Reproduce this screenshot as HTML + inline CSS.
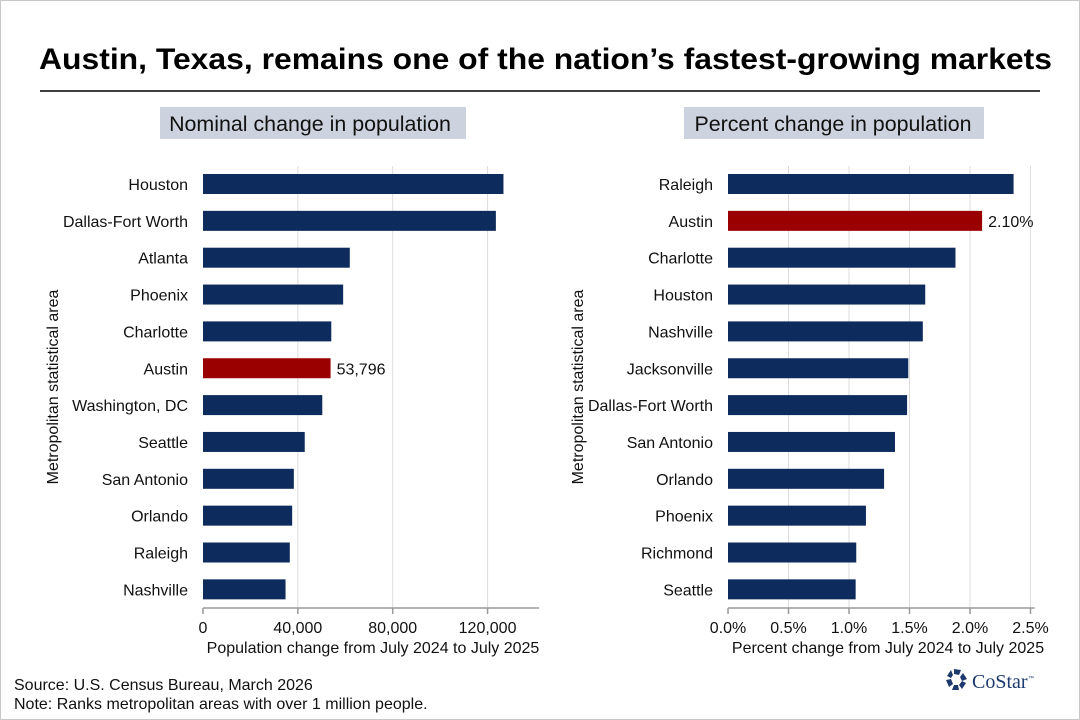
<!DOCTYPE html>
<html><head><meta charset="utf-8"><style>
html,body{margin:0;padding:0;background:#fff}
svg{display:block;font-family:"Liberation Sans",Arial,sans-serif}
</style></head><body>
<svg id="c" width="1080" height="720" viewBox="0 0 1080 720" xmlns="http://www.w3.org/2000/svg">
<rect x="0.5" y="0.5" width="1079" height="719" fill="#fff" stroke="#c8c8c8"/>
<text x="39" y="69" font-size="30" font-weight="bold" fill="#000" textLength="1013" lengthAdjust="spacingAndGlyphs">Austin, Texas, remains one of the nation’s fastest-growing markets</text>
<line x1="40" y1="91" x2="1040" y2="91" stroke="#000" stroke-width="1.5"/>
<rect x="160" y="107" width="306" height="32" fill="#cdd3de"/>
<text x="310" y="131" font-size="21.4" text-anchor="middle" fill="#111">Nominal change in population</text>
<rect x="684" y="107" width="300" height="32" fill="#cdd3de"/>
<text x="833" y="131" font-size="21.4" text-anchor="middle" fill="#111">Percent change in population</text>
<g id="left"></g>
<g id="right"></g>
<text x="14" y="690" font-size="16" fill="#111">Source: U.S. Census Bureau, March 2026</text>
<text x="14" y="709" font-size="16" fill="#111">Note: Ranks metropolitan areas with over 1 million people.</text>
<g>
<g transform="translate(957,680)" fill="#1d3a6e">
<polygon points="-3,-11 4,-10 2,-5 -3,-6"/>
<polygon points="6,-7 10,-1 5,1 3,-3"/>
<polygon points="9,3 5,9 2,5 5,1"/>
<polygon points="2,10 -5,10 -3,5 1,5"/>
<polygon points="-8,7 -11,0 -6,-1 -4,4"/>
<polygon points="-10,-4 -6,-10 -4,-5 -6,-2"/>
</g>
<text x="972" y="688" font-family="'Liberation Serif',serif" font-size="20" fill="#1d3a6e">CoStar</text>
<text x="1028" y="680" font-size="6" fill="#1d3a6e">™</text>
</g>
</svg>
<script>
const leftCats=["Houston","Dallas-Fort Worth","Atlanta","Phoenix","Charlotte","Austin","Washington, DC","Seattle","San Antonio","Orlando","Raleigh","Nashville"];
const leftVals=[126700,123500,61900,59100,54100,53796,50300,42900,38300,37600,36600,34800];
const leftTicks=[0,40000,80000,120000];
const leftTickLabels=["0","40,000","80,000","120,000"];
const leftMax=140000;
const leftHighlight="Austin";
const leftLabel="53,796";
const rightCats=["Raleigh","Austin","Charlotte","Houston","Nashville","Jacksonville","Dallas-Fort Worth","San Antonio","Orlando","Phoenix","Richmond","Seattle"];
const rightVals=[2.36,2.10,1.88,1.63,1.61,1.49,1.48,1.38,1.29,1.14,1.06,1.055];
const rightTicks=[0,0.5,1.0,1.5,2.0,2.5];
const rightTickLabels=["0.0%","0.5%","1.0%","1.5%","2.0%","2.5%"];
const rightMax=2.5;
const rightHighlight="Austin";
const rightLabel="2.10%";

const NS="http://www.w3.org/2000/svg";
function mk(parent,tag,attrs,text){const e=document.createElementNS(NS,tag);for(const k in attrs)e.setAttribute(k,attrs[k]);if(text!==undefined)e.textContent=text;parent.appendChild(e);return e;}
function panel(g,cats,vals,ticks,tickLabels,max,hl,lbl,x0,x1,xTitle,pfx,xTitleX){
  const x=v=>x0+(v/max)*(x1-x0);
  const top=174,step=36.85,bh=20,axisY=608;
  ticks.forEach((t,i)=>{
    if(t>0){const gl=mk(g,'line',{x1:x(t),x2:x(t),y1:166,y2:axisY,stroke:'#dcdcdc','stroke-width':1});
    
    }
    const tk=mk(g,'line',{x1:x(t),x2:x(t),y1:axisY,y2:axisY+6,stroke:'#999','stroke-width':1.5});
    
    
    const tl=mk(g,'text',{x:x(t),y:633,'font-size':16,'text-anchor':'middle',fill:'#111'},tickLabels[i]);
    
    
  });
  cats.forEach((c,i)=>{
    const y=top+i*step;
    const r=mk(g,'rect',{x:x0,y:y,width:x(vals[i])-x0,height:bh,fill:c===hl?'#9b0000':'#0d2b5c'});
    
    
    const t=mk(g,'text',{x:x0-15,y:y+16,'font-size':16,'text-anchor':'end',fill:'#111'},c);
    
    
    if(c===hl){const v=mk(g,'text',{x:x(vals[i])+6,y:y+16,'font-size':16,fill:'#111'},lbl);
    
    }
  });
  const ax=mk(g,'line',{x1:x0,x2:x1+4,y1:axisY,y2:axisY,stroke:'#999','stroke-width':1.5});
  
  
  const xt=mk(g,'text',{x:xTitleX,y:653,'font-size':16,'text-anchor':'middle',fill:'#111'},xTitle);
  
  
}
panel(document.getElementById('left'),leftCats,leftVals,leftTicks,leftTickLabels,leftMax,leftHighlight,leftLabel,203,535,"Population change from July 2024 to July 2025","left",373);
panel(document.getElementById('right'),rightCats,rightVals,rightTicks,rightTickLabels,rightMax,rightHighlight,rightLabel,728,1030.5,"Percent change from July 2024 to July 2025","right",888);
const svg=document.getElementById('c');
[["left",58],["right",583]].forEach(([p,xx])=>{
  const t=mk(svg,'text',{x:xx,y:387,'font-size':16,'text-anchor':'middle',fill:'#111',transform:`rotate(-90 ${xx} 387)`},"Metropolitan statistical area");
  
  
});
</script>
</body></html>
